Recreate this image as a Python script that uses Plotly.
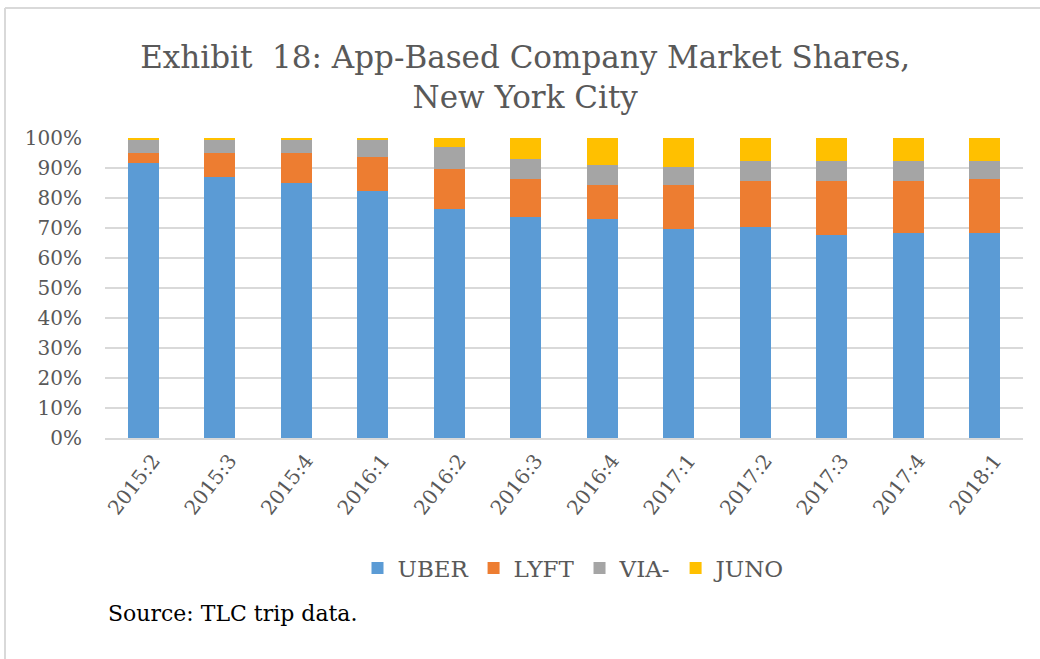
import plotly.graph_objects as go

quarters = ["2015:2", "2015:3", "2015:4", "2016:1", "2016:2", "2016:3",
            "2016:4", "2017:1", "2017:2", "2017:3", "2017:4", "2018:1"]
uber = [91.7, 87.0, 85.0, 82.3, 76.3, 73.7, 72.9, 69.6, 70.3, 67.7, 68.3, 68.3]
lyft = [3.3, 8.0, 10.0, 11.4, 13.4, 12.6, 11.4, 14.7, 15.4, 18.0, 17.4, 18.0]
via = [4.5, 4.5, 4.5, 5.6, 7.3, 6.7, 6.6, 6.0, 6.6, 6.6, 6.6, 6.0]
juno = [0.5, 0.5, 0.5, 0.7, 3.0, 7.0, 9.1, 9.7, 7.7, 7.7, 7.7, 7.7]
y_ticks = [0, 10, 20, 30, 40, 50, 60, 70, 80, 90, 100]
y_tick_labels = ["0%", "10%", "20%", "30%", "40%", "50%", "60%", "70%", "80%", "90%", "100%"]

series = [("UBER", uber, "#5B9BD5"), ("LYFT", lyft, "#ED7D31"),
          ("VIA-", via, "#A5A5A5"), ("JUNO", juno, "#FFC000")]

FONT = "DejaVu Serif"
GRAY = "#595959"

fig = go.Figure()
for name, vals, color in series:
    fig.add_trace(go.Bar(x=quarters, y=vals, name=name,
                         marker=dict(color=color, line=dict(width=0))))

W, H = 1040, 659
L, R, T, B = 105, 17, 138, 221
pw, ph = W - L - R, H - T - B

def px_x(x):
    return (x - L) / pw

def px_y(y):
    return (H - B - y) / ph

fig.update_layout(
    width=W, height=H,
    margin=dict(l=L, r=R, t=T, b=B, autoexpand=False),
    barmode="stack", bargap=0.595,
    paper_bgcolor="white", plot_bgcolor="white",
    font=dict(family=FONT, color=GRAY),
    title=dict(text="Exhibit  18: App-Based Company Market Shares,<br>New York City",
               x=0.505, xanchor="center", xref="container",
               y=1 - 68 / H, yanchor="middle", yref="container",
               font=dict(family=FONT, size=31, color=GRAY)),
    xaxis=dict(tickangle=-52, tickfont=dict(family=FONT, size=20, color=GRAY),
               showline=True, linecolor="#d9d9d9", linewidth=1.5,
               showgrid=False, ticks="", ticklabelshift=10, ticklabelstandoff=1),
    yaxis=dict(range=[0, 100], tickmode="array", tickvals=y_ticks, ticktext=y_tick_labels,
               tickfont=dict(family=FONT, size=20, color=GRAY),
               showgrid=True, gridcolor="#d9d9d9", gridwidth=1.5,
               zeroline=False, ticks="", ticklabelstandoff=22),
    legend=dict(orientation="h", x=px_x(574), xanchor="center",
                y=px_y(568), yanchor="middle",
                font=dict(family=FONT, size=23, color=GRAY),
                traceorder="normal"),
    showlegend=True,
)

fig.add_annotation(text="Source: TLC trip data.", xref="paper", yref="paper",
                   x=px_x(106), y=px_y(613), xanchor="left", yanchor="middle",
                   showarrow=False, font=dict(family=FONT, size=22, color="black"))

# chart border (top and left edges visible in the reference)
fig.add_shape(type="line", xref="paper", yref="paper",
              x0=px_x(5), x1=px_x(1045), y0=px_y(8), y1=px_y(8),
              line=dict(color="#d9d9d9", width=2))
fig.add_shape(type="line", xref="paper", yref="paper",
              x0=px_x(5), x1=px_x(5), y0=px_y(8), y1=px_y(665),
              line=dict(color="#d9d9d9", width=2))

fig.write_html("out.html", config={"displayModeBar": False},
               post_script="document.body.style.margin='0';document.body.style.overflow='hidden';")
